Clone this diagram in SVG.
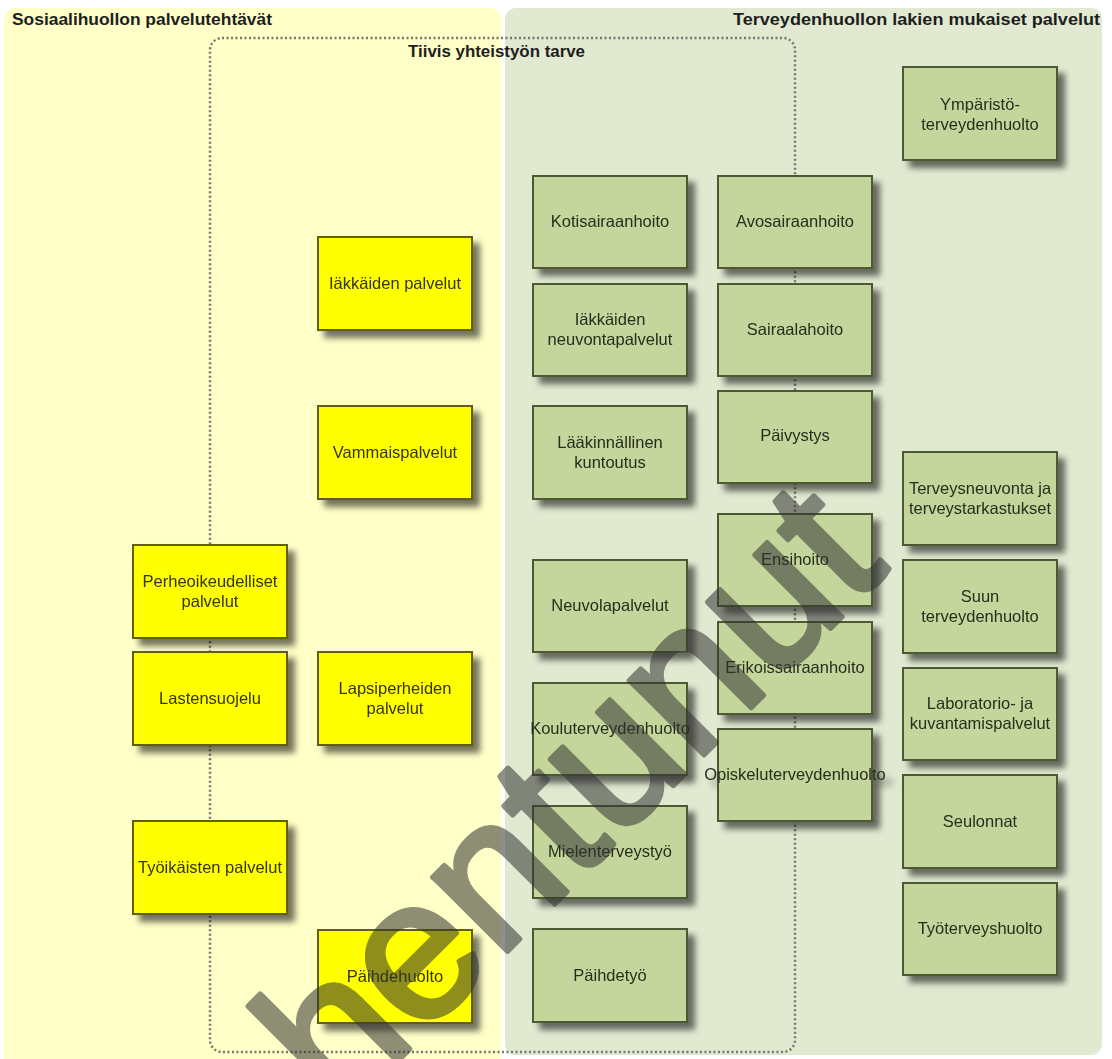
<svg xmlns="http://www.w3.org/2000/svg" width="1112" height="1059" viewBox="0 0 1112 1059">
  <defs>
    <filter id="drop" x="-10%" y="-10%" width="130%" height="135%">
      <feGaussianBlur in="SourceAlpha" stdDeviation="3"/>
      <feOffset dx="7" dy="7" result="blur"/>
      <feFlood flood-color="#000" flood-opacity="0.55"/>
      <feComposite in2="blur" operator="in" result="shadow"/>
      <feMerge>
        <feMergeNode in="shadow"/>
        <feMergeNode in="SourceGraphic"/>
      </feMerge>
    </filter>
    <style>
      .hdr { font-family: "Liberation Sans", Arial, sans-serif; font-weight: bold; font-size: 17px; fill: #1e1e1e; }
      .ybox { fill: #ffff00; stroke: #5e5e10; stroke-width: 2; }
      .gbox { fill: #c4d69b; stroke: #4b5a32; stroke-width: 2; }
      .node { filter: url(#drop); }
      .lbl { font-family: "Liberation Sans", Arial, sans-serif; font-size: 16.5px; text-anchor: middle; }
      .ylbl { fill: #34340a; }
      .glbl { fill: #282d1e; }
      .frame { fill: none; stroke: #77776f; stroke-width: 2.5; stroke-dasharray: 2 2.5; }
      .mark { font-family: "Liberation Sans", Arial, sans-serif; font-size: 200px; fill: #333; stroke: #333; stroke-width: 5; stroke-linejoin: round; }
    </style>
  </defs>

  <rect width="1112" height="1059" fill="#ffffff"/>

  <!-- two service areas -->
  <rect x="4" y="8" width="497" height="1060" rx="11" fill="#ffffc8"/>
  <rect x="505" y="8" width="597" height="1047" rx="11" fill="#e1e9d1"/>

  <text class="hdr" x="12" y="25" textLength="260" lengthAdjust="spacingAndGlyphs">Sosiaalihuollon palvelutehtävät</text>
  <text class="hdr" x="733" y="25" textLength="367" lengthAdjust="spacingAndGlyphs">Terveydenhuollon lakien mukaiset palvelut</text>
  <text class="hdr" x="408" y="57" textLength="177" lengthAdjust="spacingAndGlyphs">Tiivis yhteistyön tarve</text>

  <!-- close co-operation frame (its vertical edges run through two node columns) -->
  <g id="connectors">
    <rect class="frame" x="210" y="38" width="585" height="1014" rx="12"/>
  </g>

  <!-- social welfare services -->
  <g id="n-iakkaiden-palvelut" class="node">
    <rect class="ybox" x="318" y="237" width="154" height="93"/>
    <text class="lbl ylbl" x="395" y="289">Iäkkäiden palvelut</text>
  </g>
  <g id="n-vammaispalvelut" class="node">
    <rect class="ybox" x="318" y="406" width="154" height="93"/>
    <text class="lbl ylbl" x="395" y="458">Vammaispalvelut</text>
  </g>
  <g id="n-perheoikeudelliset" class="node">
    <rect class="ybox" x="133" y="545" width="154" height="93"/>
    <text class="lbl ylbl" x="210" y="587">Perheoikeudelliset</text>
    <text class="lbl ylbl" x="210" y="607">palvelut</text>
  </g>
  <g id="n-lastensuojelu" class="node">
    <rect class="ybox" x="133" y="652" width="154" height="93"/>
    <text class="lbl ylbl" x="210" y="704">Lastensuojelu</text>
  </g>
  <g id="n-lapsiperheiden" class="node">
    <rect class="ybox" x="318" y="652" width="154" height="93"/>
    <text class="lbl ylbl" x="395" y="694">Lapsiperheiden</text>
    <text class="lbl ylbl" x="395" y="714">palvelut</text>
  </g>
  <g id="n-tyoikaisten" class="node">
    <rect class="ybox" x="133" y="821" width="154" height="93"/>
    <text class="lbl ylbl" x="210" y="873">Työikäisten palvelut</text>
  </g>
  <g id="n-paihdehuolto" class="node">
    <rect class="ybox" x="318" y="930" width="154" height="93"/>
    <text class="lbl ylbl" x="395" y="982">Päihdehuolto</text>
  </g>

  <!-- health care services, first column -->
  <g id="n-kotisairaanhoito" class="node">
    <rect class="gbox" x="533" y="176" width="154" height="92"/>
    <text class="lbl glbl" x="610" y="227">Kotisairaanhoito</text>
  </g>
  <g id="n-iakkaiden-neuvonta" class="node">
    <rect class="gbox" x="533" y="284" width="154" height="92"/>
    <text class="lbl glbl" x="610" y="325">Iäkkäiden</text>
    <text class="lbl glbl" x="610" y="345">neuvontapalvelut</text>
  </g>
  <g id="n-laakinnallinen" class="node">
    <rect class="gbox" x="533" y="406" width="154" height="93"/>
    <text class="lbl glbl" x="610" y="448">Lääkinnällinen</text>
    <text class="lbl glbl" x="610" y="468">kuntoutus</text>
  </g>
  <g id="n-neuvola" class="node">
    <rect class="gbox" x="533" y="560" width="154" height="92"/>
    <text class="lbl glbl" x="610" y="611">Neuvolapalvelut</text>
  </g>
  <g id="n-koulu" class="node">
    <rect class="gbox" x="533" y="683" width="154" height="92"/>
    <text class="lbl glbl" x="610" y="734">Kouluterveydenhuolto</text>
  </g>
  <g id="n-mielenterveys" class="node">
    <rect class="gbox" x="533" y="806" width="154" height="92"/>
    <text class="lbl glbl" x="610" y="857">Mielenterveystyö</text>
  </g>
  <g id="n-paihdetyo" class="node">
    <rect class="gbox" x="533" y="929" width="154" height="93"/>
    <text class="lbl glbl" x="610" y="981">Päihdetyö</text>
  </g>

  <!-- health care services, second column -->
  <g id="n-avosairaanhoito" class="node">
    <rect class="gbox" x="718" y="176" width="154" height="92"/>
    <text class="lbl glbl" x="795" y="227">Avosairaanhoito</text>
  </g>
  <g id="n-sairaalahoito" class="node">
    <rect class="gbox" x="718" y="284" width="154" height="92"/>
    <text class="lbl glbl" x="795" y="335">Sairaalahoito</text>
  </g>
  <g id="n-paivystys" class="node">
    <rect class="gbox" x="718" y="391" width="154" height="92"/>
    <text class="lbl glbl" x="795" y="441">Päivystys</text>
  </g>
  <g id="n-ensihoito" class="node">
    <rect class="gbox" x="718" y="514" width="154" height="92"/>
    <text class="lbl glbl" x="795" y="565">Ensihoito</text>
  </g>
  <g id="n-erikoissairaanhoito" class="node">
    <rect class="gbox" x="718" y="622" width="154" height="92"/>
    <text class="lbl glbl" x="795" y="673">Erikoissairaanhoito</text>
  </g>
  <g id="n-opiskelu" class="node">
    <rect class="gbox" x="718" y="729" width="154" height="92"/>
    <text class="lbl glbl" x="795" y="780">Opiskeluterveydenhuolto</text>
  </g>

  <!-- health care services, third column -->
  <g id="n-ymparisto" class="node">
    <rect class="gbox" x="903" y="67" width="154" height="93"/>
    <text class="lbl glbl" x="980" y="110">Ympäristö-</text>
    <text class="lbl glbl" x="980" y="130">terveydenhuolto</text>
  </g>
  <g id="n-terveysneuvonta" class="node">
    <rect class="gbox" x="903" y="452" width="154" height="93"/>
    <text class="lbl glbl" x="980" y="494">Terveysneuvonta ja</text>
    <text class="lbl glbl" x="980" y="514">terveystarkastukset</text>
  </g>
  <g id="n-suun" class="node">
    <rect class="gbox" x="903" y="560" width="154" height="93"/>
    <text class="lbl glbl" x="980" y="602">Suun</text>
    <text class="lbl glbl" x="980" y="622">terveydenhuolto</text>
  </g>
  <g id="n-laboratorio" class="node">
    <rect class="gbox" x="903" y="668" width="154" height="92"/>
    <text class="lbl glbl" x="980" y="709">Laboratorio- ja</text>
    <text class="lbl glbl" x="980" y="729">kuvantamispalvelut</text>
  </g>
  <g id="n-seulonnat" class="node">
    <rect class="gbox" x="903" y="775" width="154" height="93"/>
    <text class="lbl glbl" x="980" y="827">Seulonnat</text>
  </g>
  <g id="n-tyoterveys" class="node">
    <rect class="gbox" x="903" y="883" width="154" height="92"/>
    <text class="lbl glbl" x="980" y="934">Työterveyshuolto</text>
  </g>

  <!-- diagonal status stamp -->
  <g opacity="0.55">
    <text class="mark" transform="translate(351,1108) rotate(-45)" x="-356" y="0">Vanhentunut</text>
  </g>
</svg>
